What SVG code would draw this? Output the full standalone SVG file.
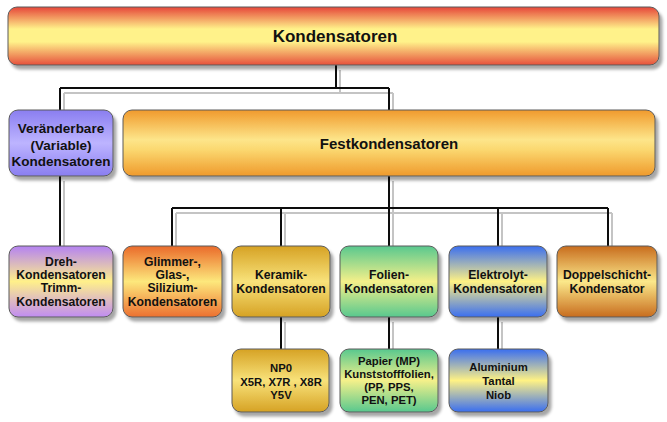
<svg xmlns="http://www.w3.org/2000/svg" width="667" height="422" viewBox="0 0 667 422">
<defs>
<filter id="sh" x="-10%" y="-10%" width="130%" height="140%">
<feDropShadow dx="3" dy="4" stdDeviation="1.5" flood-color="#000" flood-opacity="0.35"/>
</filter>
<filter id="lsh" x="-10%" y="-10%" width="130%" height="130%">
<feDropShadow dx="4" dy="5" stdDeviation="0.5" flood-color="#c4c4c4" flood-opacity="1"/>
</filter>
<linearGradient id="gRed" x1="0" y1="0" x2="0" y2="1">
<stop offset="0" stop-color="#e6463a"/><stop offset="0.38" stop-color="#fff28a"/><stop offset="0.6" stop-color="#fff28a"/><stop offset="1" stop-color="#e6503c"/>
</linearGradient>
<linearGradient id="gVio" x1="0" y1="0" x2="0" y2="1">
<stop offset="0" stop-color="#8a7ef0"/><stop offset="0.5" stop-color="#bdb4ff"/><stop offset="1" stop-color="#8a7ef0"/>
</linearGradient>
<linearGradient id="gOra" x1="0" y1="0" x2="0" y2="1">
<stop offset="0" stop-color="#f09a2c"/><stop offset="0.45" stop-color="#fde58a"/><stop offset="0.6" stop-color="#fbd870"/><stop offset="1" stop-color="#ef9a2c"/>
</linearGradient>
<linearGradient id="gPur" x1="0" y1="0" x2="0" y2="1">
<stop offset="0" stop-color="#b482f2"/><stop offset="0.5" stop-color="#fff08a"/><stop offset="1" stop-color="#c08cf2"/>
</linearGradient>
<linearGradient id="gRedO" x1="0" y1="0" x2="0" y2="1">
<stop offset="0" stop-color="#ea6a2a"/><stop offset="0.5" stop-color="#fde87c"/><stop offset="1" stop-color="#ec7030"/>
</linearGradient>
<linearGradient id="gGold" x1="0" y1="0" x2="0" y2="1">
<stop offset="0" stop-color="#d6a224"/><stop offset="0.5" stop-color="#f8e27a"/><stop offset="1" stop-color="#d6a224"/>
</linearGradient>
<linearGradient id="gGrn" x1="0" y1="0" x2="0" y2="1">
<stop offset="0" stop-color="#58c88e"/><stop offset="0.5" stop-color="#f4f08a"/><stop offset="1" stop-color="#58c88e"/>
</linearGradient>
<linearGradient id="gBlu" x1="0" y1="0" x2="0" y2="1">
<stop offset="0" stop-color="#3a6ef0"/><stop offset="0.5" stop-color="#fff284"/><stop offset="1" stop-color="#3a6ef0"/>
</linearGradient>
<linearGradient id="gBrn" x1="0" y1="0" x2="0" y2="1">
<stop offset="0" stop-color="#c86c1e"/><stop offset="0.5" stop-color="#fbe88a"/><stop offset="1" stop-color="#c86c1e"/>
</linearGradient>
</defs>
<style>
.b{stroke:#5a5a5a;stroke-width:1;filter:url(#sh)}
.t{font-family:"Liberation Sans",Arial,sans-serif;font-weight:bold;fill:#111;text-anchor:middle}
.s{font-size:12.2px}
.r{font-size:11.3px}
.c{fill:none;stroke:#111;stroke-width:2}
</style>
<rect width="667" height="422" fill="#ffffff"/>
<g id="connectors" filter="url(#lsh)">
<path class="c" d="M336,65 V88 M60,88 H389 M60,88 V110 M389,88 V110"/>
<path class="c" d="M60,176 V246 M389,176 V208 M172,208 H608 M172,208 V246 M281,208 V246 M389,208 V246 M498,208 V246 M608,208 V246"/>
<path class="c" d="M281,317 V349 M389,317 V349 M498,317 V349"/>
</g>
<g id="kondensatoren">
<rect class="b" x="8" y="7" width="651" height="58" rx="9" fill="url(#gRed)"/>
<text class="t" x="335" y="42" font-size="17">Kondensatoren</text>
</g>
<g id="veraenderbare">
<rect class="b" x="9" y="110" width="104" height="66" rx="9" fill="url(#gVio)"/>
<text class="t" x="61" y="133" font-size="13.5">Veränderbare</text>
<text class="t" x="61" y="150" font-size="13.5">(Variable)</text>
<text class="t" x="61" y="166" font-size="13.5">Kondensatoren</text>
</g>
<g id="festkondensatoren">
<rect class="b" x="123" y="110" width="532" height="66" rx="9" fill="url(#gOra)"/>
<text class="t" x="389" y="149" font-size="15">Festkondensatoren</text>
</g>
<g id="dreh">
<rect class="b" x="9" y="246" width="104" height="71" rx="9" fill="url(#gPur)"/>
<text class="t s" x="61" y="266">Dreh-</text>
<text class="t s" x="61" y="279">Kondensatoren</text>
<text class="t s" x="61" y="292">Trimm-</text>
<text class="t s" x="61" y="306">Kondensatoren</text>
</g>
<g id="glimmer">
<rect class="b" x="123" y="246" width="99" height="71" rx="9" fill="url(#gRedO)"/>
<text class="t s" x="172.5" y="266">Glimmer-,</text>
<text class="t s" x="172.5" y="279">Glas-,</text>
<text class="t s" x="172.5" y="292">Silizium-</text>
<text class="t s" x="172.5" y="306">Kondensatoren</text>
</g>
<g id="keramik">
<rect class="b" x="232" y="246" width="98" height="71" rx="9" fill="url(#gGold)"/>
<text class="t s" x="281" y="279">Keramik-</text>
<text class="t s" x="281" y="293">Kondensatoren</text>
</g>
<g id="folien">
<rect class="b" x="340" y="246" width="98" height="71" rx="9" fill="url(#gGrn)"/>
<text class="t s" x="389" y="279">Folien-</text>
<text class="t s" x="389" y="293">Kondensatoren</text>
</g>
<g id="elektrolyt">
<rect class="b" x="449" y="246" width="98" height="71" rx="9" fill="url(#gBlu)"/>
<text class="t s" x="498" y="279">Elektrolyt-</text>
<text class="t s" x="498" y="293">Kondensatoren</text>
</g>
<g id="doppelschicht">
<rect class="b" x="557" y="246" width="100" height="71" rx="9" fill="url(#gBrn)"/>
<text class="t s" x="607" y="279">Doppelschicht-</text>
<text class="t s" x="607" y="293">Kondensator</text>
</g>
<g id="keramik-typen">
<rect class="b" x="232" y="349" width="97" height="63" rx="9" fill="url(#gGold)"/>
<text class="t r" x="281" y="372">NP0</text>
<text class="t r" x="281" y="385.5">X5R, X7R , X8R</text>
<text class="t r" x="281" y="399">Y5V</text>
</g>
<g id="folien-typen">
<rect class="b" x="340" y="349" width="98" height="63" rx="9" fill="url(#gGrn)"/>
<text class="t r" x="389" y="365">Papier (MP)</text>
<text class="t r" x="389" y="378">Kunststofffolien,</text>
<text class="t r" x="389" y="391">(PP, PPS,</text>
<text class="t r" x="389" y="404">PEN, PET)</text>
</g>
<g id="elektrolyt-typen">
<rect class="b" x="449" y="349" width="99" height="63" rx="9" fill="url(#gBlu)"/>
<text class="t r" x="498.5" y="371">Aluminium</text>
<text class="t r" x="498.5" y="385">Tantal</text>
<text class="t r" x="498.5" y="399">Niob</text>
</g>
</svg>
